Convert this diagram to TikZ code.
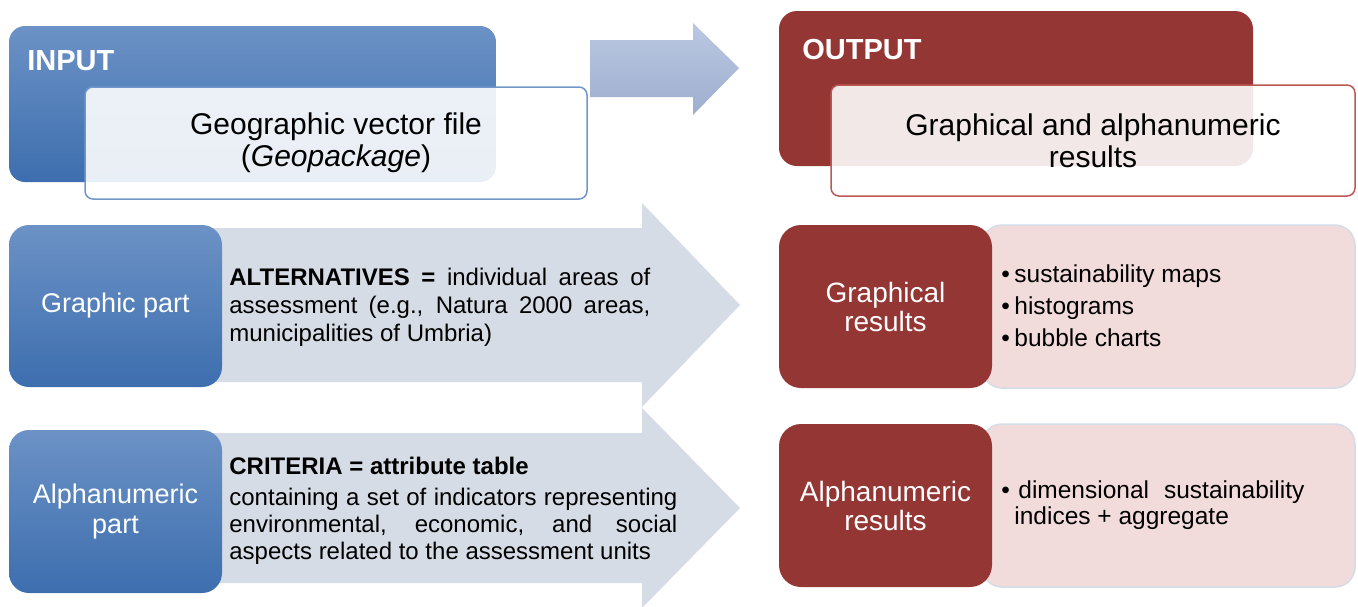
\documentclass[tikz,border=0pt]{standalone}
\usepackage{fontspec}
\setmainfont{Liberation Sans}
\definecolor{blueTop}{RGB}{108,146,198}
\definecolor{blueBot}{RGB}{61,110,174}
\definecolor{darkred}{RGB}{148,54,52}
\definecolor{pinkfill}{RGB}{242,220,219}
\definecolor{pinkline}{RGB}{212,220,232}
\definecolor{arrowfill}{RGB}{214,220,229}
\definecolor{arrTop}{RGB}{186,200,226}
\definecolor{arrBot}{RGB}{158,174,206}
\definecolor{inLine}{RGB}{112,150,204}
\definecolor{outLine}{RGB}{188,88,84}
\newcommand{\bulx}{\makebox[6.5pt][l]{•}}
\begin{document}
\begin{tikzpicture}[x=0.5pt,y=-0.5pt,
  bluebox/.style={rounded corners=10pt, top color=blueTop, bottom color=blueBot, draw=none,
    text=white, align=center, inner sep=0pt, font=\fontsize{13.5}{15}\selectfont},
  bigbluebox/.style={rounded corners=8pt, top color=blueTop, bottom color=blueBot, draw=none, inner sep=0pt},
  redbox/.style={rounded corners=11pt, fill=darkred, draw=none, text=white, align=center,
    inner sep=0pt, font=\fontsize{14}{14.5}\selectfont},
  bigredbox/.style={rounded corners=9pt, fill=darkred, draw=none, inner sep=0pt},
  pinkbox/.style={rounded corners=10pt, fill=pinkfill, draw=pinkline, line width=0.75pt, inner sep=0pt},
  panelin/.style={rounded corners=4pt, fill=white, fill opacity=0.89, text opacity=1, draw=inLine,
    line width=0.75pt, align=center, inner sep=0pt, font=\fontsize{15}{16}\selectfont},
  panelout/.style={rounded corners=4pt, fill=white, fill opacity=0.89, text opacity=1, draw=outLine,
    line width=0.75pt, align=center, inner sep=0pt, font=\fontsize{15}{16}\selectfont},
  title/.style={text=white, anchor=west, inner sep=0pt, font=\fontsize{14.5}{15}\selectfont\bfseries},
  bodytext/.style={anchor=west, align=left, inner sep=0pt, font=\fontsize{12}{14}\selectfont},
  bullets/.style={anchor=west, align=left, inner sep=0pt, font=\fontsize{12.25}{16}\selectfont},
  blockarrow/.style={fill=arrowfill, draw=none}
]
\useasboundingbox (0,0) rectangle (1358,606);

% ---------- top row ----------
\node (inbox) [bigbluebox, minimum width=243.5pt, minimum height=78pt] at (252.5,104) {};
\node (intitle) [title] at (27,61) {INPUT};
\node (infile) [panelin, minimum width=251pt, minimum height=56pt] at (336,143)
  {Geographic vector file\\(\textit{Geopackage})};

\path[top color=arrTop, bottom color=arrBot, draw=none]
  (590,40) -- (693,40) -- (693,23) -- (739,68) -- (693,115) -- (693,97) -- (590,97) -- cycle;

\node (outbox) [bigredbox, minimum width=237pt, minimum height=77.5pt] at (1016,88.5) {};
\node (outtitle) [title] at (802,50) {OUTPUT};
\node (outres) [panelout, minimum width=262pt, minimum height=55.5pt] at (1093,140.5)
  {Graphical and alphanumeric\\results};

% ---------- block arrows ----------
\path[blockarrow] (200,228) -- (642,228) -- (642,203) -- (740,305) -- (642,407) -- (642,382) -- (200,382) -- cycle;
\path[blockarrow] (200,433) -- (642,433) -- (642,408) -- (740,508) -- (642,608) -- (642,583) -- (200,583) -- cycle;

% ---------- left boxes ----------
\node (graphic) [bluebox, minimum width=106.5pt, minimum height=81pt] at (115.5,306) {Graphic part};
\node (alpha) [bluebox, minimum width=106.5pt, minimum height=81.5pt] at (115.5,511.5) {Alphanumeric\\part};

\node (alt) [bodytext] at (229,307)
  {\makebox[210.5pt][s]{\textbf{ALTERNATIVES =} individual areas of}\\
   \makebox[210.5pt][s]{assessment (e.g., Natura 2000 areas,}\\
   municipalities of Umbria)};

\node (crit) [bodytext, font=\fontsize{12}{13.5}\selectfont] at (229,511)
  {\textbf{CRITERIA = attribute table}\\[2pt]
   \makebox[224pt][s]{containing a set of indicators representing}\\
   \makebox[224pt][s]{environmental, economic, and social}\\
   aspects related to the assessment units};

% ---------- right boxes ----------
\node (gpink) [pinkbox, minimum width=186.5pt, minimum height=81.5pt] at (1168.5,306.5) {};
\node (gres) [redbox, minimum width=106.5pt, minimum height=81.5pt] at (885.5,306.5) {Graphical\\results};
\node (glist) [bullets] at (1001,306)
  {\bulx sustainability maps\\ \bulx histograms\\ \bulx bubble charts};

\node (apink) [pinkbox, minimum width=186.5pt, minimum height=81.5pt] at (1168.5,505.5) {};
\node (ares) [redbox, minimum width=106.5pt, minimum height=81.5pt] at (885.5,505.5) {Alphanumeric\\results};
\node (alist) [bullets, font=\fontsize{12.25}{13}\selectfont] at (1001,505)
  {\bulx\hspace{2pt}\makebox[143pt][s]{dimensional\ \ sustainability}\\
   \hspace{6.5pt}indices + aggregate};
\end{tikzpicture}
\end{document}
